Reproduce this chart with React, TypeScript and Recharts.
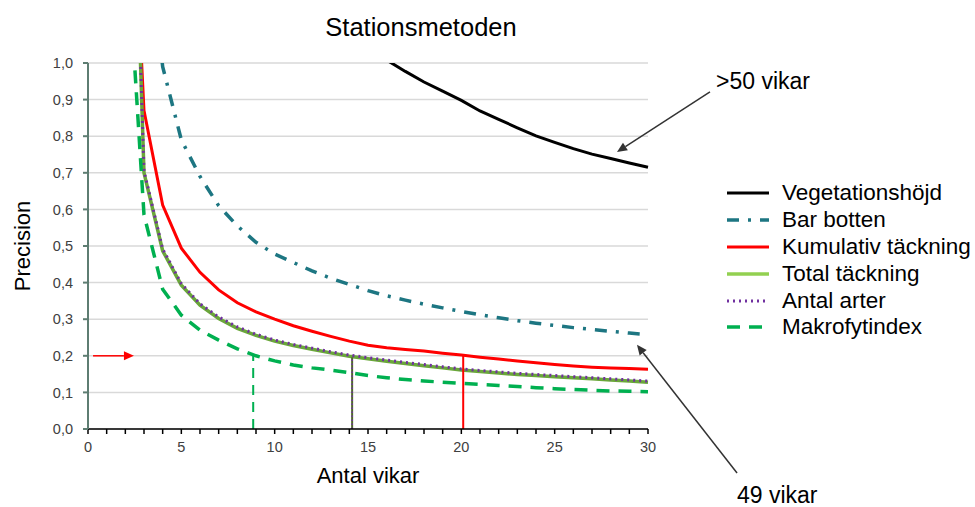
import { LineChart, Line, XAxis, YAxis, CartesianGrid, ReferenceLine } from 'recharts';

// Antal vikar (x) and precision per method
const vikar = [2, 3, 4, 5, 6, 7, 8, 9, 10, 11, 12, 13, 14, 15, 16, 17, 18, 19, 20, 21, 22, 23, 24, 25, 26, 27, 28, 29, 30];
const vegetationshojd = [null, null, null, null, null, null, null, null, null, null, null, null, null, 1.04, 1.008, 0.977, 0.948, 0.923, 0.898, 0.869, 0.846, 0.823, 0.801, 0.783, 0.766, 0.751, 0.739, 0.727, 0.715];
const barBotten = [null, 1.45, 0.99, 0.79, 0.69, 0.61, 0.555, 0.51, 0.478, 0.455, 0.432, 0.412, 0.395, 0.378, 0.364, 0.352, 0.341, 0.331, 0.321, 0.312, 0.304, 0.296, 0.289, 0.283, 0.277, 0.272, 0.267, 0.262, 0.258];
const kumulativTackning = [1.9, 0.87, 0.612, 0.494, 0.428, 0.38, 0.345, 0.32, 0.3, 0.282, 0.267, 0.253, 0.24, 0.229, 0.222, 0.217, 0.213, 0.207, 0.202, 0.196, 0.191, 0.186, 0.181, 0.176, 0.172, 0.169, 0.167, 0.165, 0.163];
const totalTackning = [2.3, 0.7, 0.487, 0.393, 0.338, 0.302, 0.275, 0.256, 0.24, 0.228, 0.218, 0.208, 0.199, 0.192, 0.185, 0.179, 0.173, 0.167, 0.161, 0.157, 0.153, 0.149, 0.146, 0.143, 0.14, 0.137, 0.134, 0.131, 0.128];
const antalArter = [2.3, 0.705, 0.492, 0.397, 0.342, 0.306, 0.279, 0.259, 0.243, 0.231, 0.221, 0.211, 0.202, 0.195, 0.188, 0.182, 0.176, 0.17, 0.164, 0.16, 0.156, 0.152, 0.149, 0.146, 0.143, 0.14, 0.137, 0.134, 0.131];
const makrofytindex = [1.4, 0.585, 0.382, 0.311, 0.27, 0.243, 0.219, 0.2, 0.186, 0.175, 0.167, 0.161, 0.154, 0.146, 0.14, 0.135, 0.131, 0.128, 0.125, 0.122, 0.119, 0.116, 0.113, 0.11, 0.108, 0.106, 0.104, 0.103, 0.102];

const xTicks = [0, 1, 2, 3, 4, 5, 6, 7, 8, 9, 10, 11, 12, 13, 14, 15, 16, 17, 18, 19, 20, 21, 22, 23, 24, 25, 26, 27, 28, 29, 30];
const yTicks = [0, 0.1, 0.2, 0.3, 0.4, 0.5, 0.6, 0.7, 0.8, 0.9, 1.0];

// number of bays needed to reach precision 0.2
const makroAt = { n: 8.85, v: 0.2 };
const totalAt = { n: 14.15, v: 0.196 };
const kumAt = { n: 20.1, v: 0.202 };

const data = vikar.map((n, i) => ({
    n,
    veg: vegetationshojd[i],
    bar: barBotten[i],
    kum: kumulativTackning[i],
    tot: totalTackning[i],
    ant: antalArter[i],
    mak: makrofytindex[i],
}));

const series = [
    { key: 'veg', name: 'Vegetationshöjd', color: '#000000', width: 3, dash: undefined as string | undefined, legendColor: '#000000' },
    { key: 'bar', name: 'Bar botten', color: '#1d7682', width: 3.5, dash: '12 9 3 9', legendColor: '#1d7682' },
    { key: 'kum', name: 'Kumulativ täckning', color: '#ff0000', width: 3, dash: undefined, legendColor: '#ff0000' },
    { key: 'tot', name: 'Total täckning', color: '#6aa73a', width: 3.5, dash: undefined, legendColor: '#92d050' },
    { key: 'ant', name: 'Antal arter', color: '#7030a0', width: 3, dash: '2 4', legendColor: '#7030a0' },
    { key: 'mak', name: 'Makrofytindex', color: '#00b050', width: 3.5, dash: '13 9', legendColor: '#00b050' },
];

const font = '"Liberation Sans", Arial, sans-serif';

const fmtY = (v: number) => v.toFixed(1).replace('.', ',');
const fmtX = (v: number) => (v % 5 === 0 ? String(v) : '');

// line with a filled arrow head at its end point
const arrowShape = (color: string, w: number) => (props: any) => {
    const { x1, y1, x2, y2 } = props;
    const ang = Math.atan2(y2 - y1, x2 - x1);
    const len = 10;
    const half = 4.5;
    const bx = x2 - len * Math.cos(ang);
    const by = y2 - len * Math.sin(ang);
    const px = -Math.sin(ang) * half;
    const py = Math.cos(ang) * half;
    return (
        <g>
            <line x1={x1} y1={y1} x2={bx} y2={by} stroke={color} strokeWidth={w} />
            <polygon points={`${x2},${y2} ${bx + px},${by + py} ${bx - px},${by - py}`} fill={color} />
        </g>
    );
};

export default function App() {
    return (
        <div style={{ position: 'absolute', left: 0, top: 0, width: 975, height: 507, background: '#fff', fontFamily: font, overflow: 'hidden' }}>
            <div style={{ position: 'absolute', left: 0, width: 842, top: 13, textAlign: 'center', fontSize: 25.5, color: '#000' }}>
                Stationsmetoden
            </div>
            <LineChart
                width={975}
                height={507}
                data={data}
                margin={{ top: 63, right: 327, bottom: 28, left: 0 }}
            >
                <CartesianGrid vertical={false} stroke="#d9d9d9" strokeWidth={1.5} />
                <XAxis
                    dataKey="n"
                    type="number"
                    domain={[0, 30]}
                    ticks={xTicks}
                    interval={0}
                    tickFormatter={fmtX}
                    stroke="#000"
                    strokeWidth={1.5}
                    tickSize={5}
                    tickMargin={8}
                    height={50}
                    tick={{ fill: '#404040', fontSize: 14.5, fontFamily: font }}
                    label={{ value: 'Antal vikar', position: 'insideBottom', offset: -4, fill: '#000', fontSize: 22, fontFamily: font }}
                />
                <YAxis
                    type="number"
                    domain={[0, 1]}
                    allowDataOverflow
                    ticks={yTicks}
                    interval={0}
                    tickFormatter={fmtY}
                    stroke="#5e7d72"
                    strokeWidth={2}
                    tickSize={5}
                    tickMargin={10}
                    width={88}
                    tick={{ fill: '#404040', fontSize: 14.5, fontFamily: font }}
                    label={{ value: 'Precision', angle: -90, position: 'insideLeft', offset: 22, fill: '#000', fontSize: 22, fontFamily: font, style: { textAnchor: 'middle' } }}
                />
                {series.map((s) => (
                    <Line
                        key={s.key}
                        dataKey={s.key}
                        name={s.name}
                        type="linear"
                        stroke={s.color}
                        strokeWidth={s.width}
                        strokeDasharray={s.dash}
                        dot={false}
                        activeDot={false}
                        isAnimationActive={false}
                    />
                ))}
                <ReferenceLine segment={[{ x: makroAt.n, y: 0 }, { x: makroAt.n, y: makroAt.v }]} stroke="#00b050" strokeWidth={2} strokeDasharray="10 7" />
                <ReferenceLine segment={[{ x: totalAt.n, y: 0 }, { x: totalAt.n, y: totalAt.v }]} stroke="#4f6b2a" strokeWidth={2} />
                <ReferenceLine segment={[{ x: totalAt.n, y: 0 }, { x: totalAt.n, y: totalAt.v }]} stroke="#7030a0" strokeWidth={1.5} strokeDasharray="1.5 2.5" />
                <ReferenceLine segment={[{ x: kumAt.n, y: 0 }, { x: kumAt.n, y: kumAt.v }]} stroke="#ff0000" strokeWidth={2} />
                <ReferenceLine segment={[{ x: 0.27, y: 0.2 }, { x: 2.46, y: 0.2 }]} ifOverflow="visible" shape={arrowShape('#ff0000', 1.5)} />
                <ReferenceLine segment={[{ x: 33.32, y: 0.921 }, { x: 28.34, y: 0.757 }]} ifOverflow="visible" shape={arrowShape('#333', 1.5)} />
                <ReferenceLine segment={[{ x: 34.77, y: -0.12 }, { x: 29.41, y: 0.23 }]} ifOverflow="visible" shape={arrowShape('#333', 1.5)} />
            </LineChart>
            <div style={{ position: 'absolute', left: 716, top: 70, fontSize: 23, lineHeight: '23px', color: '#000' }}>&gt;50 vikar</div>
            <div style={{ position: 'absolute', left: 737, top: 484, fontSize: 23, lineHeight: '23px', color: '#000' }}>49 vikar</div>
            <div style={{ position: 'absolute', left: 725, top: 180 }}>
                {series.map((s) => (
                    <div key={s.key} style={{ display: 'flex', alignItems: 'center', height: 26.8 }}>
                        <svg width={46} height={10} style={{ marginRight: 11 }}>
                            <line x1={2} y1={5} x2={44} y2={5} stroke={s.legendColor} strokeWidth={s.width} strokeDasharray={s.dash} />
                        </svg>
                        <span style={{ fontSize: 22.5, color: '#000', whiteSpace: 'nowrap' }}>{s.name}</span>
                    </div>
                ))}
            </div>
        </div>
    );
}
